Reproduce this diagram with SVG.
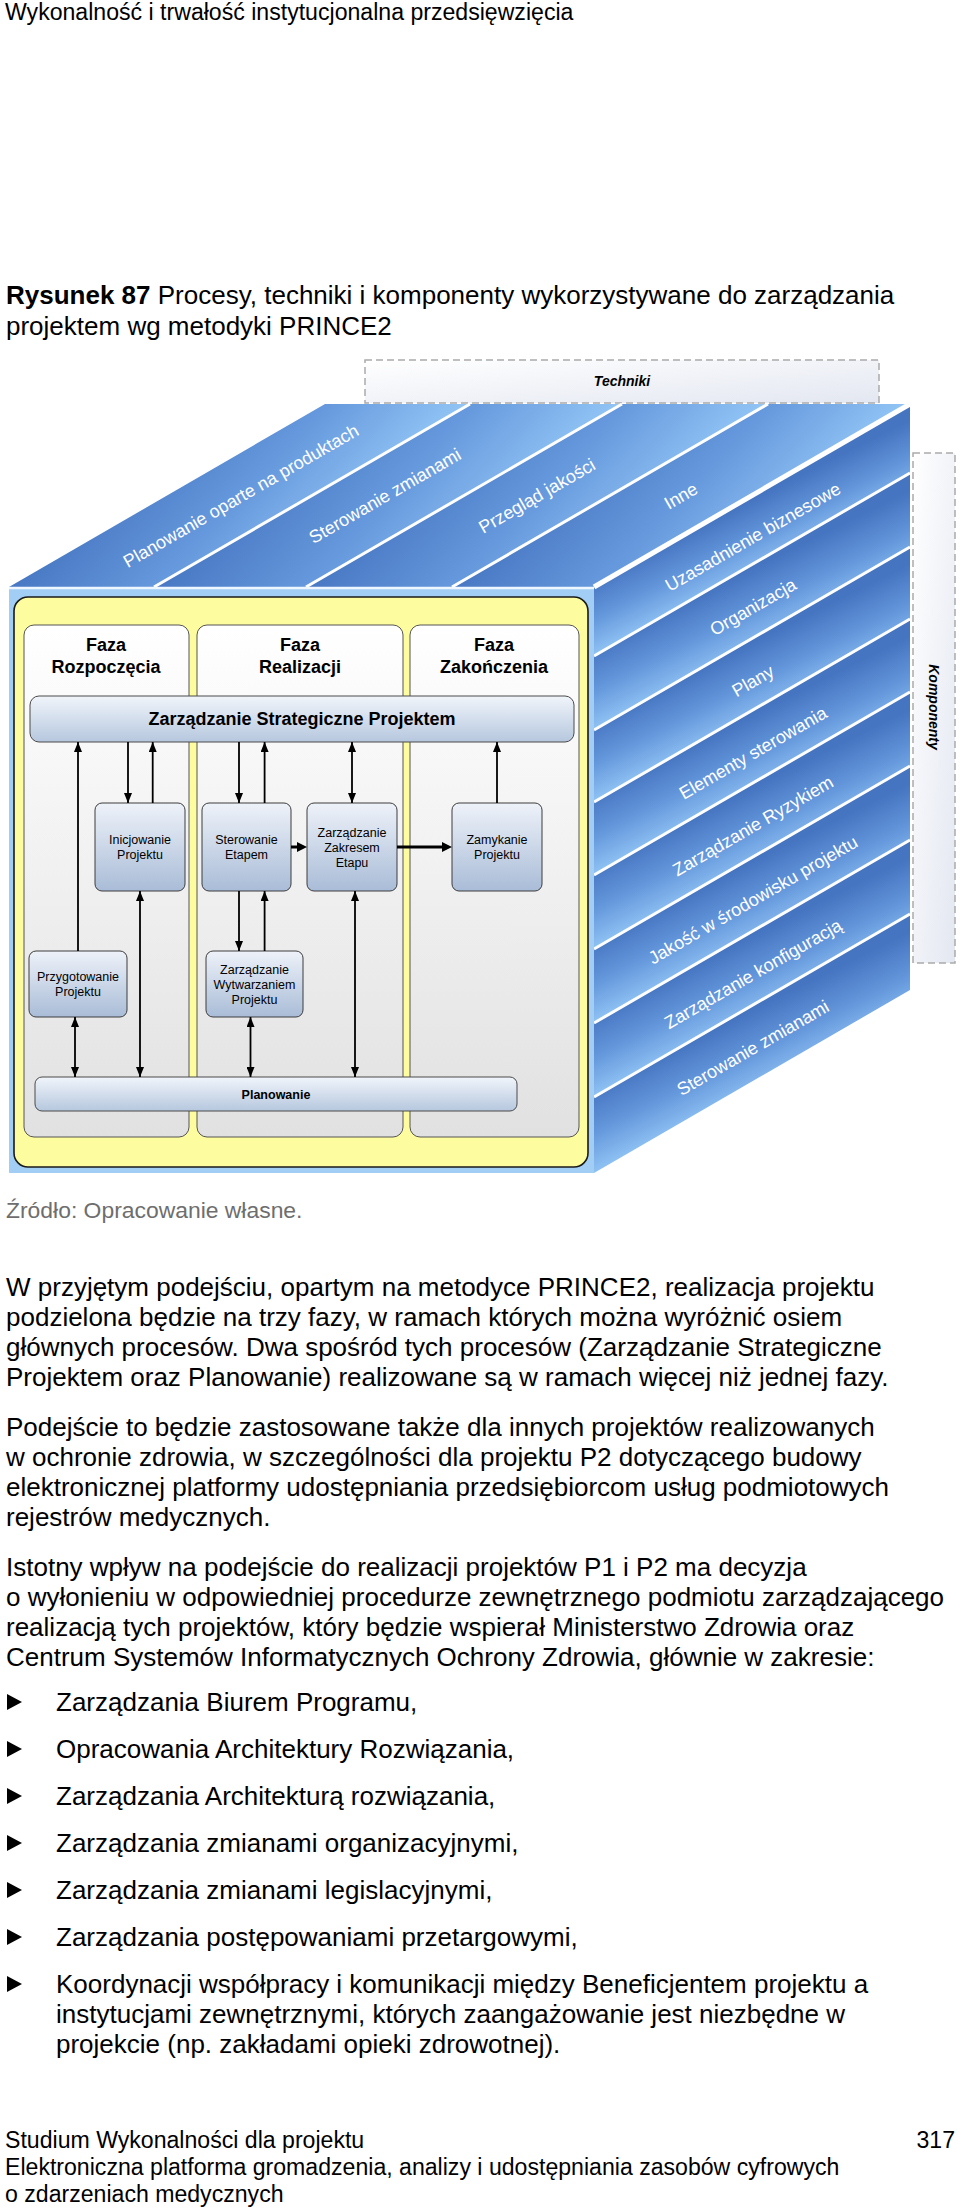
<svg xmlns="http://www.w3.org/2000/svg" width="960" height="2207" viewBox="0 0 960 2207">
<defs>
<style>
.t{font-family:"Liberation Sans",Arial,sans-serif;fill:#000}
.body{font-size:26px}
.hdr{font-size:23.1px}
.src{font-size:22.9px;fill:#6e6e6e}
.ft{font-size:23.1px}
.face{font-family:"Liberation Sans",Arial,sans-serif;font-size:18px;fill:#fff;text-anchor:middle}
.phase{font-family:"Liberation Sans",Arial,sans-serif;font-size:18px;font-weight:bold;text-anchor:middle;fill:#000}
.box{font-family:"Liberation Sans",Arial,sans-serif;font-size:12.5px;text-anchor:middle;fill:#000}
.boxb{font-family:"Liberation Sans",Arial,sans-serif;font-size:12.5px;font-weight:bold;text-anchor:middle;fill:#000}
.lbl{font-family:"Liberation Sans",Arial,sans-serif;font-size:14px;font-weight:bold;font-style:italic;text-anchor:middle;fill:#000}
.div{stroke:#fff;stroke-width:3;fill:none}
.c{stroke:#000;stroke-width:1.8;fill:none}
.ch{stroke:#000;stroke-width:3;fill:none}
.proc{fill:url(#gBox);stroke:#3c3c3c;stroke-width:1}
.col{fill:url(#gCol);stroke:#555;stroke-width:1}
.dash{fill:url(#gDash);stroke:#aaa;stroke-width:1.5;stroke-dasharray:7 4}
</style>
<linearGradient id="gBox" x1="0" y1="0" x2="0" y2="1"><stop offset="0" stop-color="#eef2f9"/><stop offset="1" stop-color="#a9bcd7"/></linearGradient>
<linearGradient id="gBar" x1="0" y1="0" x2="0" y2="1"><stop offset="0" stop-color="#f1f5fb"/><stop offset="1" stop-color="#b6c7de"/></linearGradient>
<linearGradient id="gCol" x1="0" y1="0" x2="0" y2="1"><stop offset="0" stop-color="#ffffff"/><stop offset="1" stop-color="#e1e1e1"/></linearGradient>
<linearGradient id="gTop" x1="0" y1="0" x2="1" y2="1"><stop offset="0" stop-color="#4878c3"/><stop offset="0.5" stop-color="#6598dc"/><stop offset="1" stop-color="#92c5f5"/></linearGradient>
<linearGradient id="gRight" x1="0" y1="1" x2="0.35" y2="0"><stop offset="0" stop-color="#8fc2f3"/><stop offset="0.5" stop-color="#6295da"/><stop offset="1" stop-color="#4574c0"/></linearGradient>
<linearGradient id="gDash" x1="0" y1="0" x2="1" y2="1"><stop offset="0" stop-color="#ffffff"/><stop offset="1" stop-color="#e3e7f1"/></linearGradient>
<marker id="ah" viewBox="0 0 10 8" refX="10" refY="4" markerWidth="10" markerHeight="8" markerUnits="userSpaceOnUse" orient="auto-start-reverse"><path d="M0,0L10,4L0,8z" fill="#000"/></marker>
<marker id="ahb" viewBox="0 0 10 10" refX="4" refY="5" markerWidth="10" markerHeight="10" markerUnits="userSpaceOnUse" orient="auto"><path d="M0,0L10,5L0,10z" fill="#000"/></marker>
</defs>
<rect width="960" height="2207" fill="#fff"/>

<g id="header"><text class="t hdr" x="5" y="20">Wykonalność i trwałość instytucjonalna przedsięwzięcia</text></g>
<g id="caption">
<text class="t body" x="6" y="304"><tspan font-weight="bold">Rysunek 87</tspan> Procesy, techniki i komponenty wykorzystywane do zarządzania</text>
<text class="t body" x="6" y="335">projektem wg metodyki PRINCE2</text>
</g>

<g id="techniki"><rect class="dash" x="365" y="360" width="514" height="43"/><text class="lbl" x="622" y="386">Techniki</text></g>
<g id="komponenty"><rect class="dash" x="913" y="453" width="42" height="510"/><text class="lbl" transform="translate(934,707) rotate(90)" x="0" y="5">Komponenty</text></g>

<g id="top-face">
<g transform="matrix(1 0 1.7268 -1 9 587)">
<rect x="0" y="0" width="145" height="183" fill="url(#gTop)"/>
<rect x="145" y="0" width="152" height="183" fill="url(#gTop)"/>
<rect x="297" y="0" width="146" height="183" fill="url(#gTop)"/>
<rect x="443" y="0" width="142" height="183" fill="url(#gTop)"/>
</g>
<path class="div" d="M154,587L470,404M306,587L622,404M452,587L768,404"/>
<text class="face" transform="translate(241,496) rotate(-30)" y="6">Planowanie oparte na produktach</text>
<text class="face" transform="translate(385,496) rotate(-30)" y="6">Sterowanie zmianami</text>
<text class="face" transform="translate(537,496) rotate(-30)" y="6">Przegląd jakości</text>
<text class="face" transform="translate(681,496) rotate(-30)" y="6">Inne</text>
</g>

<g id="right-face">
<g transform="matrix(1 -0.5791 0 1 594 587)">
<rect x="0" y="0" width="316" height="69" fill="url(#gRight)"/>
<rect x="0" y="69" width="316" height="74" fill="url(#gRight)"/>
<rect x="0" y="143" width="316" height="72" fill="url(#gRight)"/>
<rect x="0" y="215" width="316" height="73" fill="url(#gRight)"/>
<rect x="0" y="288" width="316" height="74" fill="url(#gRight)"/>
<rect x="0" y="362" width="316" height="74" fill="url(#gRight)"/>
<rect x="0" y="436" width="316" height="74" fill="url(#gRight)"/>
<rect x="0" y="510" width="316" height="76" fill="url(#gRight)"/>
</g>
<path class="div" d="M594,656L910,473M594,730L910,547M594,802L910,619M594,875L910,692M594,949L910,766M594,1023L910,840M594,1097L910,914"/>
<path d="M594,587L910,404" stroke="#fff" stroke-width="5"/>
<text class="face" transform="translate(753,537) rotate(-30)" y="6">Uzasadnienie biznesowe</text>
<text class="face" transform="translate(753,607) rotate(-30)" y="6">Organizacja</text>
<text class="face" transform="translate(753,681) rotate(-30)" y="6">Plany</text>
<text class="face" transform="translate(753,753) rotate(-30)" y="6">Elementy sterowania</text>
<text class="face" transform="translate(753,826) rotate(-30)" y="6">Zarządzanie Ryzykiem</text>
<text class="face" transform="translate(753,900) rotate(-30)" y="6">Jakość w środowisku projektu</text>
<text class="face" transform="translate(753,974) rotate(-30)" y="6">Zarządzanie konfiguracją</text>
<text class="face" transform="translate(753,1048) rotate(-30)" y="6">Sterowanie zmianami</text>
</g>

<g id="front-face">
<rect x="9" y="587" width="585" height="586" fill="#a2cef5"/>
<path d="M9,588H594" stroke="#eef6ff" stroke-width="2.5"/>
<rect x="14" y="597" width="574" height="570" rx="14" fill="#fdfc9f" stroke="#1a1a1a" stroke-width="1.6"/>
</g>

<g id="phase-start"><rect class="col" x="24" y="625" width="165" height="512" rx="10"/><text class="phase" x="106" y="651">Faza</text><text class="phase" x="106" y="673">Rozpoczęcia</text></g>
<g id="phase-exec"><rect class="col" x="197" y="625" width="206" height="512" rx="10"/><text class="phase" x="300" y="651">Faza</text><text class="phase" x="300" y="673">Realizacji</text></g>
<g id="phase-end"><rect class="col" x="410" y="625" width="169" height="512" rx="10"/><text class="phase" x="494" y="651">Faza</text><text class="phase" x="494" y="673">Zakończenia</text></g>

<g id="strategic"><rect x="30" y="696" width="544" height="46" rx="9" fill="url(#gBar)" stroke="#4a4a4a" stroke-width="1"/><text class="phase" x="302" y="725">Zarządzanie Strategiczne Projektem</text></g>

<g id="inicjowanie"><rect class="proc" x="95" y="803" width="90" height="88" rx="7"/><text class="box" x="140" y="843.5">Inicjowanie</text><text class="box" x="140" y="858.5">Projektu</text></g>
<g id="sterowanie"><rect class="proc" x="202" y="803" width="89" height="88" rx="7"/><text class="box" x="246.5" y="843.5">Sterowanie</text><text class="box" x="246.5" y="858.5">Etapem</text></g>
<g id="zakres"><rect class="proc" x="307" y="803" width="90" height="88" rx="7"/><text class="box" x="352" y="836.5">Zarządzanie</text><text class="box" x="352" y="851.5">Zakresem</text><text class="box" x="352" y="866.5">Etapu</text></g>
<g id="zamykanie"><rect class="proc" x="452" y="803" width="90" height="88" rx="7"/><text class="box" x="497" y="843.5">Zamykanie</text><text class="box" x="497" y="858.5">Projektu</text></g>
<g id="przygotowanie"><rect class="proc" x="29" y="951" width="98" height="66" rx="7"/><text class="box" x="78" y="981">Przygotowanie</text><text class="box" x="78" y="996">Projektu</text></g>
<g id="wytwarzanie"><rect class="proc" x="206" y="951" width="97" height="66" rx="7"/><text class="box" x="254.5" y="973.5">Zarządzanie</text><text class="box" x="254.5" y="988.5">Wytwarzaniem</text><text class="box" x="254.5" y="1003.5">Projektu</text></g>
<g id="planowanie"><rect x="35" y="1077" width="482" height="34" rx="7" fill="url(#gBar)" stroke="#4a4a4a" stroke-width="1"/><text class="boxb" x="276" y="1098.5">Planowanie</text></g>

<g id="connectors">
<path class="c" d="M78,951V742" marker-end="url(#ah)"/>
<path class="c" d="M128,742V803" marker-end="url(#ah)"/>
<path class="c" d="M152.7,803V742" marker-end="url(#ah)"/>
<path class="c" d="M239,742V803" marker-end="url(#ah)"/>
<path class="c" d="M264.6,803V742" marker-end="url(#ah)"/>
<path class="c" d="M352,742V803" marker-start="url(#ah)" marker-end="url(#ah)"/>
<path class="c" d="M497,803V742" marker-end="url(#ah)"/>
<path class="ch" d="M291,847H301" marker-end="url(#ahb)"/>
<path class="ch" d="M397,847H446" marker-end="url(#ahb)"/>
<path class="c" d="M239,891V951" marker-end="url(#ah)"/>
<path class="c" d="M264.6,951V891" marker-end="url(#ah)"/>
<path class="c" d="M75,1017V1077" marker-start="url(#ah)" marker-end="url(#ah)"/>
<path class="c" d="M140,891V1077" marker-start="url(#ah)" marker-end="url(#ah)"/>
<path class="c" d="M250.5,1017V1077" marker-start="url(#ah)" marker-end="url(#ah)"/>
<path class="c" d="M355,891V1077" marker-start="url(#ah)" marker-end="url(#ah)"/>
</g>

<g id="source"><text class="t src" x="6" y="1218">Źródło: Opracowanie własne.</text></g>

<g id="body">
<text class="t body" x="6" y="1296">W przyjętym podejściu, opartym na metodyce PRINCE2, realizacja projektu</text>
<text class="t body" x="6" y="1326">podzielona będzie na trzy fazy, w ramach których można wyróżnić osiem</text>
<text class="t body" x="6" y="1356">głównych procesów. Dwa spośród tych procesów (Zarządzanie Strategiczne</text>
<text class="t body" x="6" y="1386">Projektem oraz Planowanie) realizowane są w ramach więcej niż jednej fazy.</text>
<text class="t body" x="6" y="1436">Podejście to będzie zastosowane także dla innych projektów realizowanych</text>
<text class="t body" x="6" y="1466">w ochronie zdrowia, w szczególności dla projektu P2 dotyczącego budowy</text>
<text class="t body" x="6" y="1496">elektronicznej platformy udostępniania przedsiębiorcom usług podmiotowych</text>
<text class="t body" x="6" y="1526">rejestrów medycznych.</text>
<text class="t body" x="6" y="1576">Istotny wpływ na podejście do realizacji projektów P1 i P2 ma decyzja</text>
<text class="t body" x="6" y="1606">o wyłonieniu w odpowiedniej procedurze zewnętrznego podmiotu zarządzającego</text>
<text class="t body" x="6" y="1636">realizacją tych projektów, który będzie wspierał Ministerstwo Zdrowia oraz</text>
<text class="t body" x="6" y="1666">Centrum Systemów Informatycznych Ochrony Zdrowia, głównie w zakresie:</text>
</g>

<g id="bullets">
<polygon points="7,1694 22,1702 7,1710"/><text class="t body" x="56" y="1711">Zarządzania Biurem Programu,</text>
<polygon points="7,1741 22,1749 7,1757"/><text class="t body" x="56" y="1758">Opracowania Architektury Rozwiązania,</text>
<polygon points="7,1788 22,1796 7,1804"/><text class="t body" x="56" y="1805">Zarządzania Architekturą rozwiązania,</text>
<polygon points="7,1835 22,1843 7,1851"/><text class="t body" x="56" y="1852">Zarządzania zmianami organizacyjnymi,</text>
<polygon points="7,1882 22,1890 7,1898"/><text class="t body" x="56" y="1899">Zarządzania zmianami legislacyjnymi,</text>
<polygon points="7,1929 22,1937 7,1945"/><text class="t body" x="56" y="1946">Zarządzania postępowaniami przetargowymi,</text>
<polygon points="7,1976 22,1984 7,1992"/><text class="t body" x="56" y="1993">Koordynacji współpracy i komunikacji między Beneficjentem projektu a</text>
<text class="t body" x="56" y="2023">instytucjami zewnętrznymi, których zaangażowanie jest niezbędne w</text>
<text class="t body" x="56" y="2053">projekcie (np. zakładami opieki zdrowotnej).</text>
</g>

<g id="footer">
<text class="t ft" x="5" y="2148">Studium Wykonalności dla projektu</text>
<text class="t ft" x="955" y="2148" text-anchor="end">317</text>
<text class="t ft" x="5" y="2175">Elektroniczna platforma gromadzenia, analizy i udostępniania zasobów cyfrowych</text>
<text class="t ft" x="5" y="2202">o zdarzeniach medycznych</text>
</g>
</svg>
